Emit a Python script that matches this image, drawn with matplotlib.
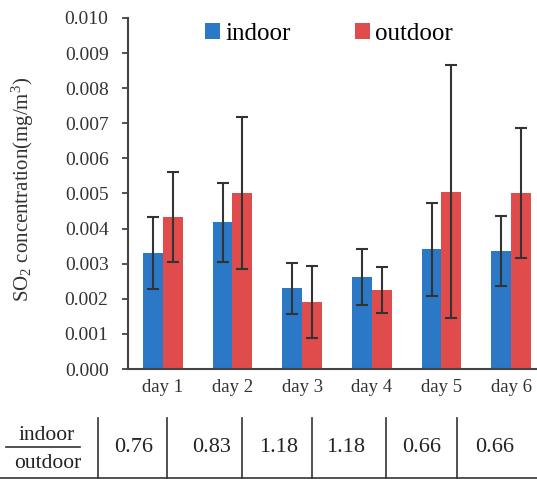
import numpy as np
import matplotlib
matplotlib.use("Agg")
import matplotlib.pyplot as plt
from matplotlib.lines import Line2D

plt.rcParams['font.family'] = ['Liberation Serif', 'DejaVu Serif']
plt.rcParams['mathtext.fontset'] = 'custom'
plt.rcParams['mathtext.rm'] = 'Liberation Serif'
plt.rcParams['mathtext.it'] = 'Liberation Serif:italic'

# data
days = ["day 1", "day 2", "day 3", "day 4", "day 5", "day 6"]
indoor = [0.0033, 0.00418, 0.0023, 0.00263, 0.00341, 0.00336]
indoor_err = [0.00102, 0.00112, 0.00073, 0.0008, 0.00132, 0.001]
outdoor = [0.00433, 0.00502, 0.00191, 0.00225, 0.00505, 0.00502]
outdoor_err = [0.00127, 0.00217, 0.00103, 0.00065, 0.0036, 0.00185]
ratio = [0.76, 0.83, 1.18, 1.18, 0.66, 0.66]
yticks = np.arange(0, 0.0101, 0.001)

blue = "#2a78c6"
red = "#e04b4b"

W, H = 537, 479
fig = plt.figure(figsize=(W / 100, H / 100), dpi=100)
ax = fig.add_axes([128 / W, 110 / H, (546 - 128) / W, (461 - 110) / H])

x = np.arange(len(days))
bw = 0.285
ekw = dict(ecolor="#333333", elinewidth=1.5, capsize=4.5, capthick=1.5)
b1 = ax.bar(x - bw / 2, indoor, bw, yerr=indoor_err, color=blue, error_kw=ekw, label="indoor")
b2 = ax.bar(x + bw / 2, outdoor, bw, yerr=outdoor_err, color=red, error_kw=ekw, label="outdoor")

ax.set_xlim(-0.5, len(days) - 0.5)
ax.set_ylim(0, 0.010)
ax.set_yticks(yticks)
ax.set_yticklabels(["%.3f" % v for v in yticks], fontsize=14, color="#333333")
ax.set_xticks(x)
ax.set_xticklabels(days, fontsize=13.5, color="#333333")
ax.tick_params(axis="x", length=0, pad=7)
ax.tick_params(axis="y", direction="out", length=4, width=1.3, color="#444444", pad=10)
for s in ["top", "right"]:
    ax.spines[s].set_visible(False)
for s in ["left", "bottom"]:
    ax.spines[s].set_color("#444444")
    ax.spines[s].set_linewidth(1.5)

fig.text(23 / W, 1 - 189 / H, "SO$_2$ concentration(mg/m$^3$)", fontsize=15,
         rotation=90, ha="center", va="center", color="#333333")

ax.legend(handles=[b1, b2], ncol=2, frameon=False, fontsize=18,
          loc="center left", bbox_to_anchor=(205 / W, 1 - 34 / H),
          bbox_transform=fig.transFigure, borderpad=0, borderaxespad=0,
          handlelength=0.6, handleheight=0.6, handletextpad=0.2, columnspacing=2.6)

# ratio table under the chart
lc = "#333333"
fig.add_artist(Line2D([0, 1], [1 - 478 / H, 1 - 478 / H], color=lc, lw=1.2))
for xv in [98, 167, 242, 312, 386, 457]:
    fig.add_artist(Line2D([xv / W, xv / W], [1 - 418 / H, 1 - 478 / H], color=lc, lw=1.2))
fig.add_artist(Line2D([6 / W, 80 / W], [1 - 447 / H, 1 - 447 / H], color=lc, lw=1.2))
fig.text(47 / W, 1 - 435 / H, "indoor", fontsize=15.5, ha="center", va="center", color="#222222")
fig.text(48 / W, 1 - 464 / H, "outdoor", fontsize=15.5, ha="center", va="center", color="#222222")
cell_x = [134, 212, 279, 346, 422, 495]
for cx, r in zip(cell_x, ratio):
    fig.text(cx / W, 1 - 447 / H, "%.2f" % r, fontsize=16, ha="center", va="center", color="#222222")

fig.savefig("out.png", dpi=100)
